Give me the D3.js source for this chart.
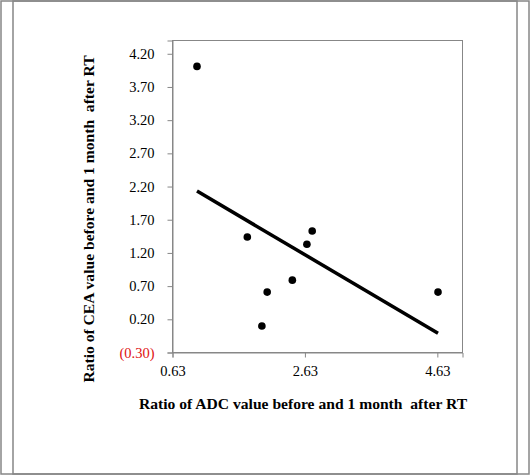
<!DOCTYPE html>
<html>
<head>
<meta charset="utf-8">
<script src="https://cdn.jsdelivr.net/npm/d3@7"></script>
<style>
  body { margin: 0; background: #fff; }
  text { font-family: "Liberation Serif", "Times New Roman", serif; }
</style>
</head>
<body>
<div id="chart"></div>
<script>
// data
var adcRatio = [1.00, 1.76, 2.74, 2.66, 2.44, 2.06, 1.98, 4.64];
var ceaRatio = [4.01, 1.44, 1.53, 1.33, 0.79, 0.61, 0.10, 0.61];
var xTicks = [0.63, 2.63, 4.63];
var yTicks = [-0.30, 0.20, 0.70, 1.20, 1.70, 2.20, 2.70, 3.20, 3.70, 4.20];
var xTitle = "Ratio of ADC value before and 1 month  after RT";
var yTitle = "Ratio of CEA value before and 1 month  after RT";

var width = 530, height = 475;
var plot = {left: 172.5, top: 40.5, right: 462.5, bottom: 352.5};
var grey = "#878787";

var points = adcRatio.map(function(x, i) { return {x: x, y: ceaRatio[i]}; });

var x = d3.scaleLinear().domain([0.63, 5.01]).range([plot.left, plot.right]);
var y = d3.scaleLinear().domain([-0.30, 4.40]).range([plot.bottom, plot.top]);

var svg = d3.select("#chart")
  .append("svg")
  .attr("width", width)
  .attr("height", height);

// frames
svg.append("rect")
  .attr("x", 1).attr("y", 1).attr("width", 528).attr("height", 473)
  .attr("fill", "none").attr("stroke", grey).attr("stroke-width", 1.5);
svg.append("rect")
  .attr("x", 13).attr("y", 1).attr("width", 504).attr("height", 473)
  .attr("fill", "none").attr("stroke", grey).attr("stroke-width", 1.5);

// plot area border
svg.append("rect")
  .attr("x", plot.left).attr("y", plot.top)
  .attr("width", plot.right - plot.left).attr("height", plot.bottom - plot.top)
  .attr("fill", "none").attr("stroke", grey).attr("stroke-width", 1);

function fmt(v) {
  return v < 0 ? "(" + d3.format(".2f")(-v) + ")" : d3.format(".2f")(v);
}

var yAxis = svg.append("g")
  .attr("transform", "translate(" + plot.left + ",0)")
  .call(d3.axisLeft(y).tickValues(yTicks).tickFormat(fmt).tickSize(5).tickPadding(13));

var xAxis = svg.append("g")
  .attr("transform", "translate(0," + plot.bottom + ")")
  .call(d3.axisBottom(x).tickValues(xTicks).tickFormat(d3.format(".2f")).tickSize(5).tickPadding(8.5));

[xAxis, yAxis].forEach(function(g) {
  g.selectAll(".domain, .tick line").attr("stroke", grey);
  g.selectAll("text")
    .attr("font-size", "14.5px")
    .attr("fill", "#000");
});
yAxis.selectAll(".tick text")
  .filter(function(d) { return d < 0; })
  .attr("fill", "#e01010");

// least squares trend line
var mx = d3.mean(adcRatio), my = d3.mean(ceaRatio);
var slope = d3.sum(points, function(d) { return (d.x - mx) * (d.y - my); }) /
            d3.sum(points, function(d) { return (d.x - mx) * (d.x - mx); });
var icept = my - slope * mx;
var trend = d3.extent(adcRatio).map(function(v) { return {x: v, y: icept + slope * v}; });

svg.append("path")
  .datum(trend)
  .attr("d", d3.line().x(function(d) { return x(d.x); }).y(function(d) { return y(d.y); }))
  .attr("fill", "none")
  .attr("stroke", "#000")
  .attr("stroke-width", 3.5);

svg.append("g")
  .selectAll("circle")
  .data(points)
  .enter()
  .append("circle")
  .attr("cx", function(d) { return x(d.x); })
  .attr("cy", function(d) { return y(d.y); })
  .attr("r", 3.8)
  .attr("fill", "#000");

// titles
svg.append("text")
  .attr("x", 303).attr("y", 409)
  .attr("text-anchor", "middle")
  .attr("font-size", "15.6px")
  .attr("font-weight", "bold")
  .style("white-space", "pre")
  .text(xTitle);

svg.append("text")
  .attr("transform", "translate(94,219) rotate(-90)")
  .attr("text-anchor", "middle")
  .attr("font-size", "15.6px")
  .attr("font-weight", "bold")
  .style("white-space", "pre")
  .text(yTitle);
</script>
</body>
</html>
